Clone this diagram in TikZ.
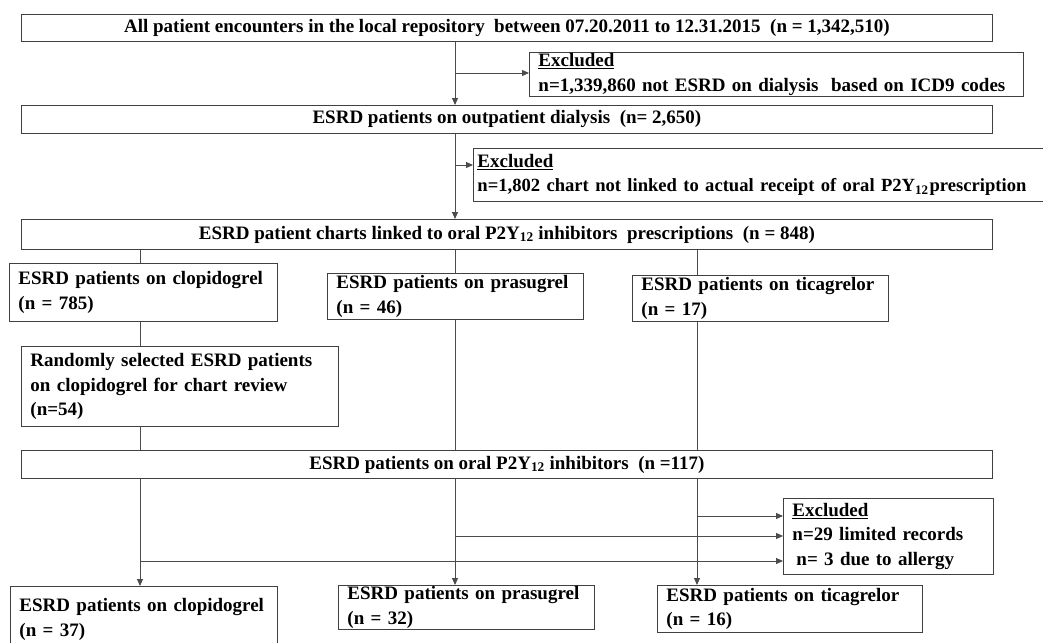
\documentclass[tikz,border=0pt]{standalone}
\usepackage{fontspec}
\setmainfont{Liberation Serif}
\usetikzlibrary{arrows.meta}
\begin{document}
\begin{tikzpicture}[x=1pt,y=-1pt,
  box/.style={draw=black!75, line width=0.9pt, fill=white, anchor=north west,
    inner xsep=9pt, inner ysep=0pt, font=\fontsize{19}{24.5}\selectfont\bfseries},
  cbox/.style={box, align=center},
  lbox/.style={box, align=left},
  link/.style={draw=black!70, line width=0.9pt},
  arr/.style={link, -{Triangle[length=7pt,width=6pt]}}]
\useasboundingbox (0,0) rectangle (1043,642);
% main boxes
\node[cbox, minimum width=971pt, minimum height=27pt] (b1) at (21,14)
  {All patient encounters in the local repository\ \ between 07.20.2011 to 12.31.2015\ \ (n = 1,342,510)};
\node[lbox, minimum width=494pt, minimum height=44pt, text width=476pt] (e1) at (529,52)
  {\underline{Excluded}\\n=1,339,860 not ESRD on dialysis\ \ based on ICD9 codes};
\node[cbox, minimum width=971pt, minimum height=28pt] (b2) at (21,105)
  {ESRD patients on outpatient dialysis\ \ (n= 2,650)};
\node[lbox, inner xsep=4pt, minimum width=600pt, minimum height=53pt, text width=592pt] (e2) at (473,148)
  {\underline{Excluded}\\{\fontsize{18.6}{24.5}\selectfont n=1,802 chart not linked to actual receipt of oral P2Y\textsubscript{12}\hspace{1pt}prescription}};
\node[cbox, minimum width=971pt, minimum height=30pt] (b3) at (21,219)
  {ESRD patient charts linked to oral P2Y\textsubscript{12} inhibitors\ \ prescriptions\ \ (n = 848)};
\node[lbox, minimum width=268pt, minimum height=58pt, text width=250pt] (c1) at (9,263)
  {ESRD patients\ on clopidogrel\\(n = 785)};
\node[lbox, minimum width=256pt, minimum height=46pt, text width=238pt] (p1) at (327,273)
  {ESRD patients\ on prasugrel\\(n = 46)};
\node[lbox, minimum width=256pt, minimum height=46pt, text width=238pt] (t1) at (632,275)
  {ESRD patients\ on ticagrelor\\(n = 17)};
\node[lbox, minimum width=317pt, minimum height=80pt, text width=299pt] (r) at (21,346)
  {Randomly\ selected ESRD patients\\on clopidogrel\ for chart review\\(n=54)};
\node[cbox, minimum width=971pt, minimum height=28pt] (b4) at (21,450)
  {ESRD patients\ on oral P2Y\textsubscript{12} inhibitors\ \ (n =117)};
\node[lbox, minimum width=210pt, minimum height=76pt, text width=192pt] (e3) at (783,498)
  {\underline{Excluded}\\n=29 limited\ records\\\hspace*{4pt}n= 3 due to allergy};
\node[lbox, minimum width=267pt, minimum height=66pt, text width=249pt] (c2) at (10,586)
  {ESRD patients\ on clopidogrel\\(n = 37)};
\node[lbox, minimum width=256pt, minimum height=44pt, text width=238pt] (p2) at (338,585)
  {ESRD patients\ on prasugrel\\(n = 32)};
\node[lbox, minimum width=265pt, minimum height=47pt, text width=247pt] (t2) at (657,585)
  {ESRD patients\ on ticagrelor\\(n = 16)};
% column coordinates
\coordinate (xa) at (455,0);
\coordinate (xc) at (140,0);
\coordinate (xt) at (697,0);
\coordinate (j1) at (455,73);
\coordinate (j2) at (455,165);
\coordinate (j3) at (697,516);
\coordinate (j4) at (455,536);
\coordinate (j5) at (140,561);
% connectors
\draw[arr] (b1.south -| xa) -- (b2.north -| xa);
\draw[arr] (j1) -- (j1 -| e1.west);
\draw[arr] (b2.south -| xa) -- (b3.north -| xa);
\draw[arr] (j2) -- (j2 -| e2.west);
\draw[link] (b3.south -| xc) -- (c1.north -| xc);
\draw[link] (b3.south -| xa) -- (p1.north -| xa);
\draw[link] (b3.south -| xt) -- (t1.north -| xt);
\draw[link] (c1.south -| xc) -- (r.north -| xc);
\draw[link] (r.south -| xc) -- (b4.north -| xc);
\draw[link] (p1.south -| xa) -- (b4.north -| xa);
\draw[link] (t1.south -| xt) -- (b4.north -| xt);
\draw[arr] (b4.south -| xc) -- (c2.north -| xc);
\draw[arr] (b4.south -| xa) -- (p2.north -| xa);
\draw[arr] (b4.south -| xt) -- (t2.north -| xt);
\draw[arr] (j3) -- (j3 -| e3.west);
\draw[arr] (j4) -- (j4 -| e3.west);
\draw[arr] (j5) -- (j5 -| e3.west);
\end{tikzpicture}
\end{document}
